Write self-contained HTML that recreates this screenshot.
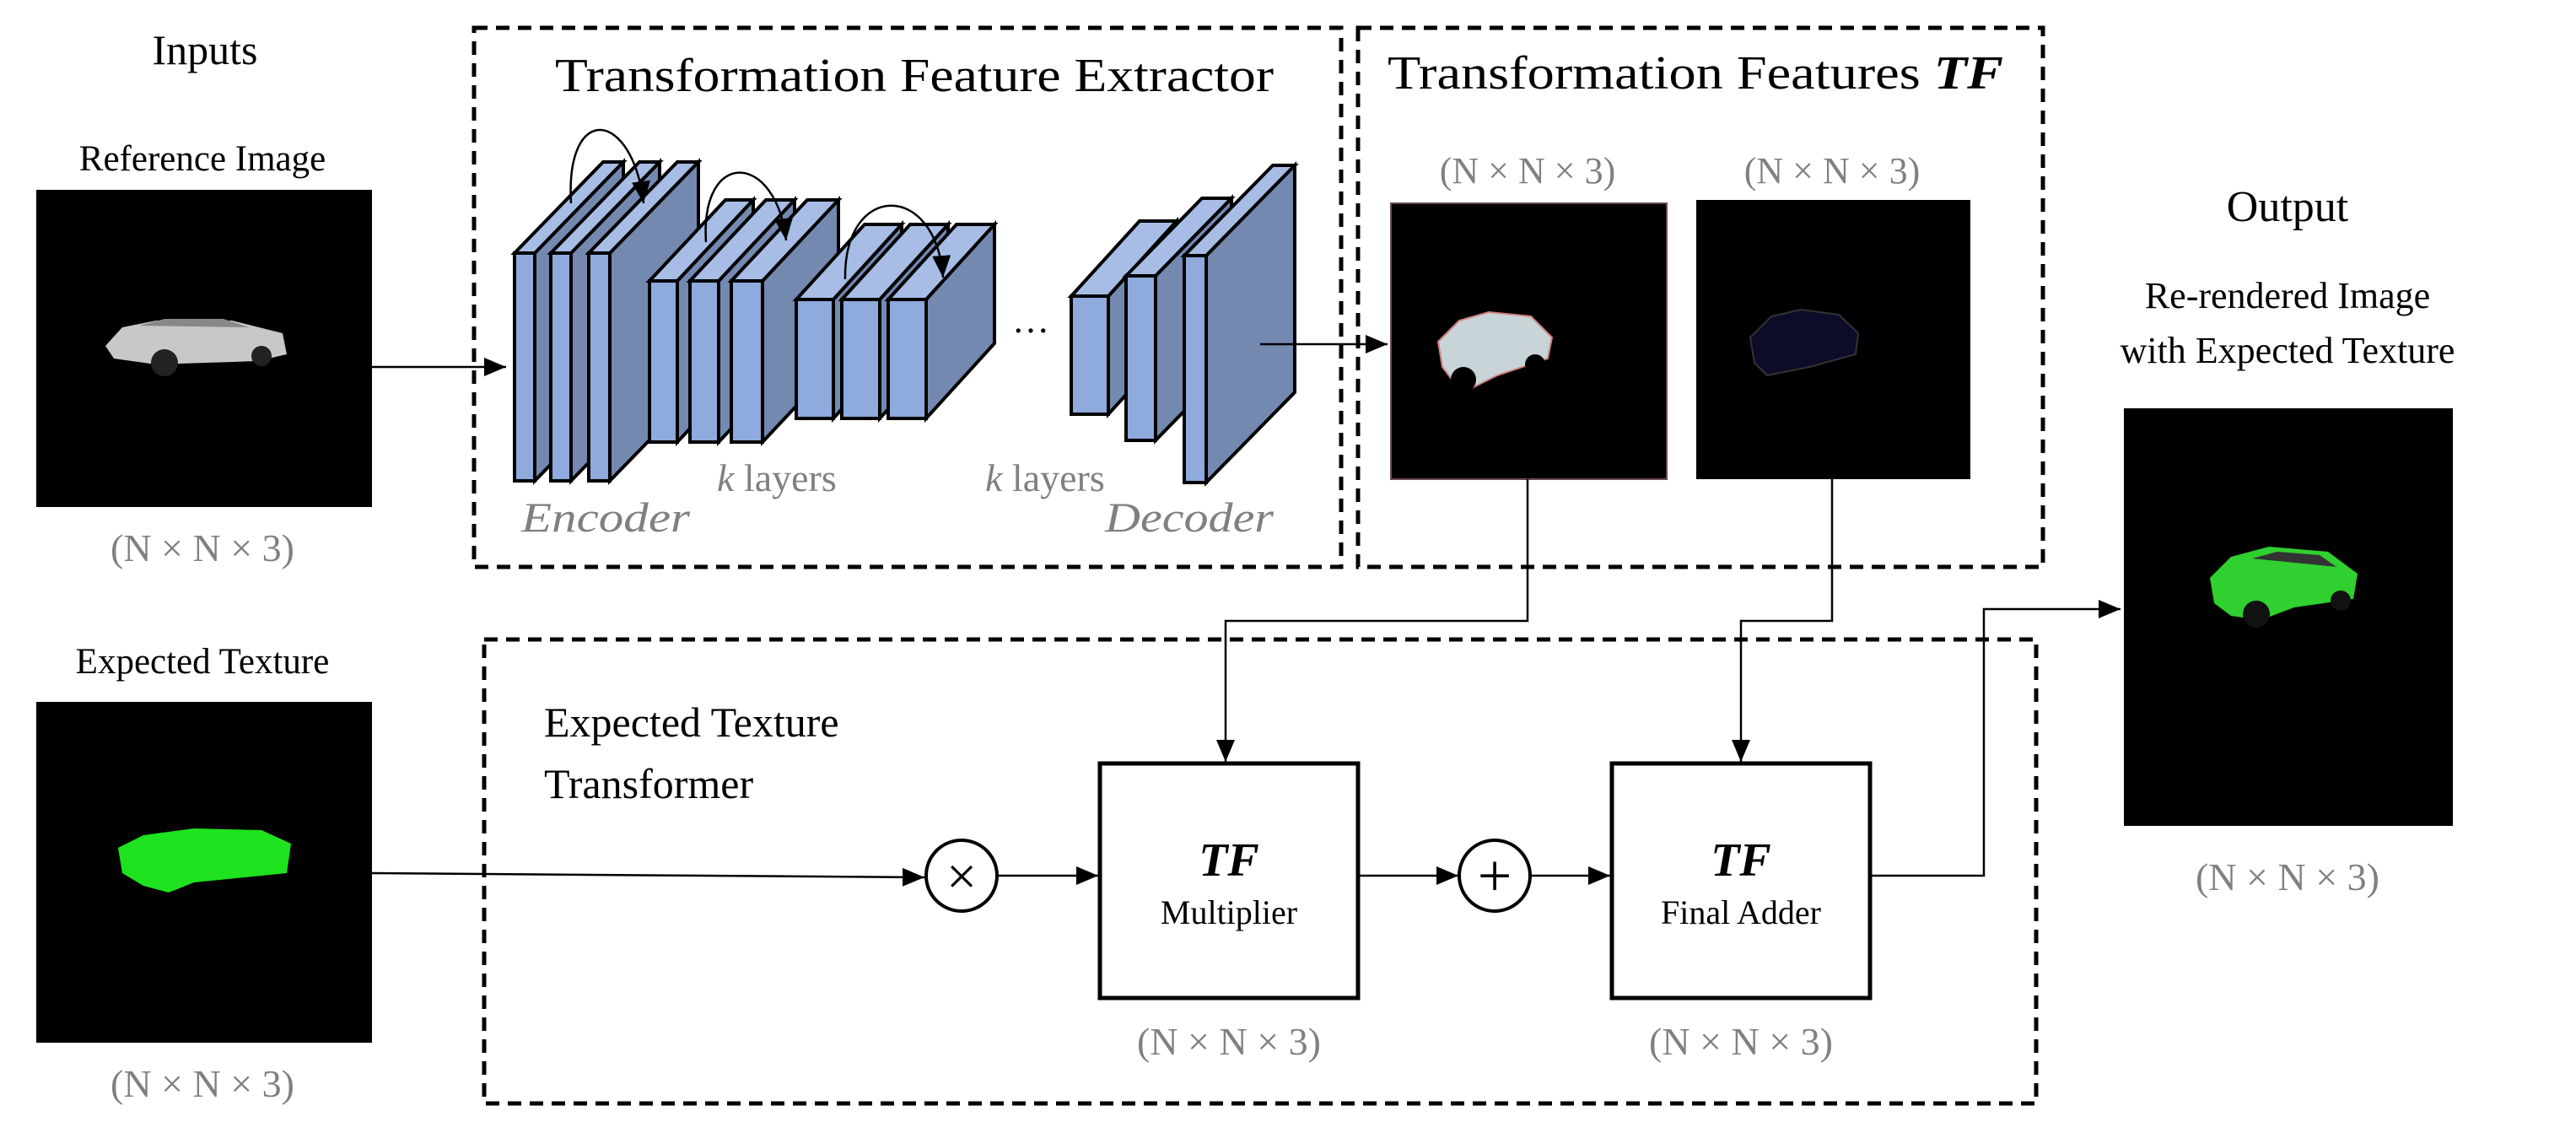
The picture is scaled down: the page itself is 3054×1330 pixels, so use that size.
<!DOCTYPE html>
<html><head><meta charset="utf-8"><style>
html,body{margin:0;padding:0;background:#fff;}
svg{display:block;}
text{font-family:"Liberation Serif",serif;}
.g{fill:#808080;}
.sf{fill:#8faadc;stroke:#000;stroke-width:4;stroke-linejoin:miter}
.st{fill:#a7bde6;stroke:#000;stroke-width:4}
.ss{fill:#7489b0;stroke:#000;stroke-width:4}
</style></head><body>
<svg width="3054" height="1330" viewBox="0 0 3054 1330" xmlns="http://www.w3.org/2000/svg">
<defs>
<marker id="b" viewBox="0 0 10 10" refX="10" refY="5" markerWidth="26" markerHeight="22" orient="auto" markerUnits="userSpaceOnUse" preserveAspectRatio="none"><path d="M0,0 L10,5 L0,10 z" fill="#000"/></marker>
</defs>

<!-- Inputs -->
<text x="243" y="76" font-size="50" text-anchor="middle">Inputs</text>
<text x="240" y="202" font-size="43" text-anchor="middle">Reference Image</text>
<rect x="43" y="225" width="398" height="376" fill="#000"/>
<g transform="translate(125,410)">
<path d="M0,0 L20,-22 L60,-30 L150,-30 L210,-15 L215,10 L180,18 L60,22 L10,15 Z" fill="#c8c8c8"/>
<path d="M40,-24 L70,-32 L140,-32 L170,-22 Z" fill="#888"/>
<circle cx="70" cy="20" r="16" fill="#222"/><circle cx="185" cy="12" r="12" fill="#222"/>
</g>
<text x="240" y="665" font-size="46" text-anchor="middle" class="g">(N × N × 3)</text>

<text x="240" y="798" font-size="43" text-anchor="middle">Expected Texture</text>
<rect x="43" y="832" width="398" height="404" fill="#000"/>
<g transform="translate(140,1010)">
<path d="M0,-5 L30,-20 L90,-28 L170,-26 L205,-10 L200,25 L150,30 L90,36 L60,48 L30,40 L5,25 Z" fill="#1ee31e"/>
</g>
<text x="240" y="1300" font-size="46" text-anchor="middle" class="g">(N × N × 3)</text>

<!-- TFE box -->
<rect x="562" y="33" width="1028" height="639" fill="none" stroke="#000" stroke-width="5" stroke-dasharray="16 10"/>
<text x="1084" y="108" font-size="56" text-anchor="middle" textLength="852" lengthAdjust="spacingAndGlyphs">Transformation Feature Extractor</text>

<!-- slabs -->
<g transform="translate(610,300)"><path class="ss" d="M24 0 l105 -108 v270 l-105 108 z"/><path class="st" d="M0 0 l105 -108 h24 l-105 108 z"/><rect class="sf" width="24" height="270"/></g>
<g transform="translate(653,300)"><path class="ss" d="M24 0 l105 -108 v270 l-105 108 z"/><path class="st" d="M0 0 l105 -108 h24 l-105 108 z"/><rect class="sf" width="24" height="270"/></g>
<g transform="translate(698,300)"><path class="ss" d="M25 0 l105 -108 v270 l-105 108 z"/><path class="st" d="M0 0 l105 -108 h25 l-105 108 z"/><rect class="sf" width="25" height="270"/></g>

<g transform="translate(770,333)"><path class="ss" d="M33 0 l90 -96 v191 l-90 96 z"/><path class="st" d="M0 0 l90 -96 h33 l-90 96 z"/><rect class="sf" width="33" height="191"/></g>
<g transform="translate(818,333)"><path class="ss" d="M34 0 l90 -96 v191 l-90 96 z"/><path class="st" d="M0 0 l90 -96 h34 l-90 96 z"/><rect class="sf" width="34" height="191"/></g>
<g transform="translate(867,333)"><path class="ss" d="M37 0 l90 -96 v191 l-90 96 z"/><path class="st" d="M0 0 l90 -96 h37 l-90 96 z"/><rect class="sf" width="37" height="191"/></g>

<g transform="translate(944,355)"><path class="ss" d="M44 0 l81 -89 v141 l-81 89 z"/><path class="st" d="M0 0 l81 -89 h44 l-81 89 z"/><rect class="sf" width="44" height="141"/></g>
<g transform="translate(998,355)"><path class="ss" d="M45 0 l81 -89 v141 l-81 89 z"/><path class="st" d="M0 0 l81 -89 h45 l-81 89 z"/><rect class="sf" width="45" height="141"/></g>
<g transform="translate(1053,355)"><path class="ss" d="M45 0 l81 -89 v141 l-81 89 z"/><path class="st" d="M0 0 l81 -89 h45 l-81 89 z"/><rect class="sf" width="45" height="141"/></g>

<text x="1222" y="394" font-size="44" text-anchor="middle">…</text>

<g transform="translate(1270,351)"><path class="ss" d="M44 0 l81 -89 v140 l-81 89 z"/><path class="st" d="M0 0 l81 -89 h44 l-81 89 z"/><rect class="sf" width="44" height="140"/></g>
<g transform="translate(1335,327)"><path class="ss" d="M35 0 l90 -92 v195 l-90 92 z"/><path class="st" d="M0 0 l90 -92 h35 l-90 92 z"/><rect class="sf" width="35" height="195"/></g>
<g transform="translate(1404,303)"><path class="ss" d="M26 0 l105 -107 v269 l-105 107 z"/><path class="st" d="M0 0 l105 -107 h26 l-105 107 z"/><rect class="sf" width="26" height="269"/></g>

<!-- skip arcs -->
<path d="M677,241 C670,120 750,130 763,241" fill="none" stroke="#000" stroke-width="2.5" marker-end="url(#b)"/>
<path d="M837,287 C830,175 920,180 932,285" fill="none" stroke="#000" stroke-width="2.5" marker-end="url(#b)"/>
<path d="M1002,331 C1000,215 1110,215 1118,329" fill="none" stroke="#000" stroke-width="2.5" marker-end="url(#b)"/>

<text x="850" y="582" font-size="46" class="g" font-family="Liberation Sans, sans-serif"><tspan font-style="italic" font-family="Liberation Serif, serif">k</tspan> layers</text>
<text x="1168" y="582" font-size="46" class="g" font-family="Liberation Sans, sans-serif"><tspan font-style="italic" font-family="Liberation Serif, serif">k</tspan> layers</text>
<text x="618" y="630" font-size="50" class="g" font-style="italic" textLength="200" lengthAdjust="spacingAndGlyphs">Encoder</text>
<text x="1310" y="630" font-size="50" class="g" font-style="italic" textLength="200" lengthAdjust="spacingAndGlyphs">Decoder</text>

<!-- TF box -->
<rect x="1610" y="33" width="812" height="639" fill="none" stroke="#000" stroke-width="5" stroke-dasharray="16 10"/>
<text x="1645" y="105" font-size="56" textLength="730" lengthAdjust="spacingAndGlyphs">Transformation Features <tspan font-weight="bold" font-style="italic">TF</tspan></text>
<text x="1811" y="217" font-size="44" text-anchor="middle" class="g">(N × N × 3)</text>
<text x="2172" y="217" font-size="44" text-anchor="middle" class="g">(N × N × 3)</text>
<rect x="1649" y="241" width="327" height="327" fill="#000" stroke="#6a4a5a" stroke-width="2"/>
<g transform="translate(1705,410)"><path d="M0,-5 L25,-30 L60,-40 L110,-35 L135,-10 L130,15 L70,35 L40,50 L20,45 L5,25 Z" fill="#c8d4d8" stroke="#d08080" stroke-width="2"/><circle cx="30" cy="40" r="15" fill="#000"/><circle cx="115" cy="22" r="12" fill="#000"/></g>
<rect x="2011" y="237" width="325" height="331" fill="#000"/>
<g transform="translate(2075,405)"><path d="M0,-5 L25,-30 L60,-38 L105,-32 L128,-10 L125,15 L70,30 L20,40 L5,25 Z" fill="#0c0c28" stroke="#333" stroke-width="2"/></g>

<!-- Output -->
<text x="2712" y="262" font-size="52" text-anchor="middle">Output</text>
<text x="2712" y="365" font-size="44" text-anchor="middle">Re-rendered Image</text>
<text x="2712" y="430" font-size="44" text-anchor="middle">with Expected Texture</text>
<rect x="2518" y="484" width="390" height="495" fill="#000"/>
<g transform="translate(2620,690)"><path d="M0,-5 L25,-30 L70,-42 L140,-36 L175,-10 L170,20 L100,30 L60,45 L25,40 L5,25 Z" fill="#2fd02f"/><path d="M50,-28 L80,-36 L130,-32 L150,-18 Z" fill="#333"/><circle cx="55" cy="38" r="16" fill="#111"/><circle cx="155" cy="22" r="12" fill="#111"/></g>
<text x="2712" y="1055" font-size="46" text-anchor="middle" class="g">(N × N × 3)</text>

<!-- ETT box -->
<rect x="574" y="758" width="1840" height="550" fill="none" stroke="#000" stroke-width="5" stroke-dasharray="16 10"/>
<text x="645" y="873" font-size="50">Expected Texture</text>
<text x="645" y="946" font-size="50">Transformer</text>

<circle cx="1140" cy="1038" r="42" fill="#fff" stroke="#000" stroke-width="4"/>
<text x="1140" y="1060" font-size="64" text-anchor="middle">×</text>
<circle cx="1772" cy="1038" r="42" fill="#fff" stroke="#000" stroke-width="4"/>
<text x="1772" y="1062" font-size="72" text-anchor="middle">+</text>

<rect x="1304" y="905" width="306" height="278" fill="#fff" stroke="#000" stroke-width="5"/>
<text x="1457" y="1038" font-size="56" text-anchor="middle" font-weight="bold" font-style="italic">TF</text>
<text x="1457" y="1095" font-size="40" text-anchor="middle">Multiplier</text>
<rect x="1911" y="905" width="306" height="278" fill="#fff" stroke="#000" stroke-width="5"/>
<text x="2064" y="1038" font-size="56" text-anchor="middle" font-weight="bold" font-style="italic">TF</text>
<text x="2064" y="1095" font-size="40" text-anchor="middle">Final Adder</text>
<text x="1457" y="1250" font-size="46" text-anchor="middle" class="g">(N × N × 3)</text>
<text x="2064" y="1250" font-size="46" text-anchor="middle" class="g">(N × N × 3)</text>

<!-- connectors -->
<g fill="none" stroke="#000" stroke-width="2.5">
<path d="M441,435 H600" marker-end="url(#b)"/>
<path d="M1494,408 H1645" marker-end="url(#b)"/>
<path d="M441,1035 L1096,1040" marker-end="url(#b)"/>
<path d="M1182,1038 H1302" marker-end="url(#b)"/>
<path d="M1610,1038 H1729" marker-end="url(#b)"/>
<path d="M1814,1038 H1909" marker-end="url(#b)"/>
<path d="M1811,568 V736 H1453 V903" marker-end="url(#b)"/>
<path d="M2172,568 V736 H2064 V903" marker-end="url(#b)"/>
<path d="M2217,1038 H2352 V722 H2514" marker-end="url(#b)"/>
</g>
</svg>
</body></html>
